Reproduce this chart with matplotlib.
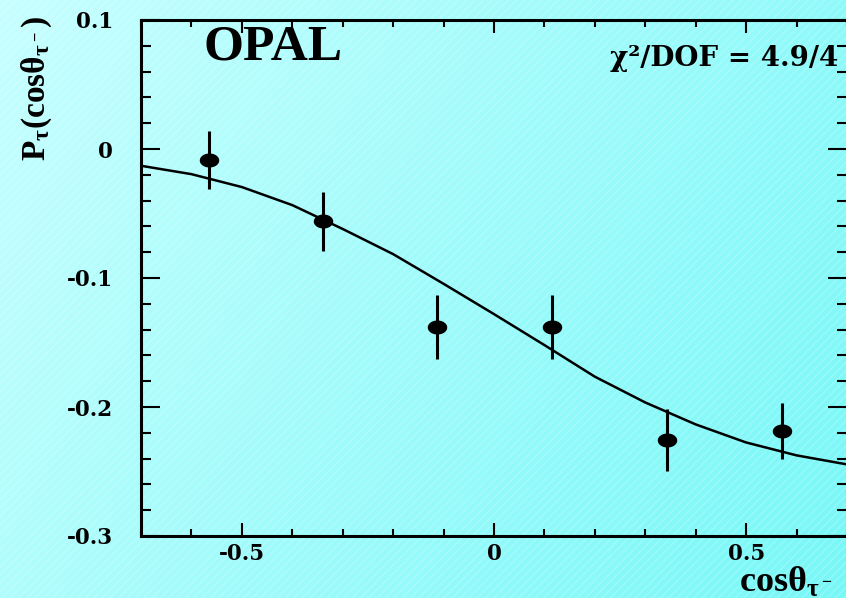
import numpy as np
import matplotlib
matplotlib.use("Agg")
import matplotlib.pyplot as plt
from matplotlib.path import Path
from matplotlib.ticker import MultipleLocator
from matplotlib.patches import Rectangle

# measured points (bin centres in cos theta)
cos_bins = [-0.565, -0.34, -0.113, 0.115, 0.344, 0.571]
pol = [-0.0085, -0.056, -0.138, -0.138, -0.2256, -0.2186]
pol_err = [0.0225, 0.023, 0.025, 0.025, 0.024, 0.022]

# fitted curve
curve_x = [-0.7, -0.6, -0.5, -0.4, -0.3, -0.2, -0.1, 0.0, 0.1, 0.2, 0.3, 0.4,
           0.5, 0.6, 0.7]
curve_y = [-0.013, -0.0195, -0.0295, -0.0435, -0.062, -0.0815, -0.1045, -0.128,
           -0.152, -0.1765, -0.1965, -0.2135, -0.2275, -0.2375, -0.2445]

plt.rcParams['mathtext.fontset'] = 'custom'
plt.rcParams['mathtext.rm'] = 'Liberation Serif:bold'
plt.rcParams['mathtext.it'] = 'Liberation Serif:bold'
plt.rcParams['mathtext.bf'] = 'Liberation Serif:bold'
serif = dict(family='Liberation Serif', weight='bold')
wide = dict(family='DejaVu Serif', weight='bold')

fig = plt.figure(figsize=(8.46, 5.98), dpi=100)

# cyan gradient background
bg = fig.add_axes([0, 0, 1, 1], zorder=-10)
gx, gy = np.meshgrid(np.linspace(0, 1, 300), np.linspace(0, 1, 200))
t = 0.7 * gx + 0.3 * gy
c0 = np.array([0.78, 1.0, 1.0])
c1 = np.array([0.47, 0.97, 0.97])
img = c0[None, None, :] * (1 - t[..., None]) + c1[None, None, :] * t[..., None]
bg.imshow(img, extent=[0, 1, 0, 1], aspect='auto', origin='upper')
bg.add_patch(Rectangle((0, 0), 1, 1, facecolor='none', edgecolor=(1, 1, 1, 0.2),
                       hatch='////', linewidth=0))
bg.set_axis_off()

ax = fig.add_axes([141 / 846, 1 - 536 / 598, (847 - 141) / 846, (536 - 20) / 598])
ax.patch.set_alpha(0)

ax.plot(curve_x, curve_y, color='black', linewidth=1.8)

ell = np.linspace(0, 2 * np.pi, 60)
ell_path = Path(np.column_stack([np.cos(ell), 0.7 * np.sin(ell)]), closed=True)
ax.errorbar(cos_bins, pol, yerr=pol_err, fmt='none', ecolor='black', elinewidth=2.2)
ax.plot(cos_bins, pol, linestyle='none', marker=ell_path, markersize=13,
        color='black')

ax.set_xlim(-0.7, 0.7)
ax.set_ylim(-0.3, 0.1)
ax.xaxis.set_minor_locator(MultipleLocator(0.1))
ax.yaxis.set_minor_locator(MultipleLocator(0.02))
ax.set_xticks([-0.5, 0, 0.5])
ax.set_xticklabels(['-0.5', '0', '0.5'])
ax.set_yticks([-0.3, -0.2, -0.1, 0, 0.1])
ax.set_yticklabels(['-0.3', '-0.2', '-0.1', '0', '0.1'])

for s in ax.spines.values():
    s.set_linewidth(2.2)
ax.tick_params(axis='x', which='major', direction='in', length=9.5, width=1.5,
               top=True, pad=5)
ax.tick_params(axis='x', which='minor', direction='in', length=4.7, width=1.5,
               top=True)
ax.tick_params(axis='y', which='major', direction='in', length=13.5, width=1.5,
               right=True, pad=20)
ax.tick_params(axis='y', which='minor', direction='in', length=7, width=1.5,
               right=True)
for lab in ax.get_xticklabels() + ax.get_yticklabels():
    lab.set_fontfamily('DejaVu Serif')
    lab.set_fontweight('bold')
    lab.set_fontsize(15.5)

fig.text(203 / 846, 1 - 47 / 598, 'OPAL', fontsize=37, ha='left', va='center', **serif)
fig.text(838 / 846, 1 - 58 / 598, 'χ²/DOF = 4.9/4', fontsize=20, ha='right',
         va='center', **wide)

fig.text(739 / 846, 6 / 598, r'$\mathrm{cos}\theta_{\tau^-}$', fontsize=26,
         ha='left', va='baseline')
fig.text(37 / 846, 1 - 89 / 598, r'$\mathrm{P}_{\tau}(\mathrm{cos}\theta_{\tau^-})$',
         fontsize=24, rotation=90, ha='center', va='center')

fig.savefig('out.png', dpi=100)
